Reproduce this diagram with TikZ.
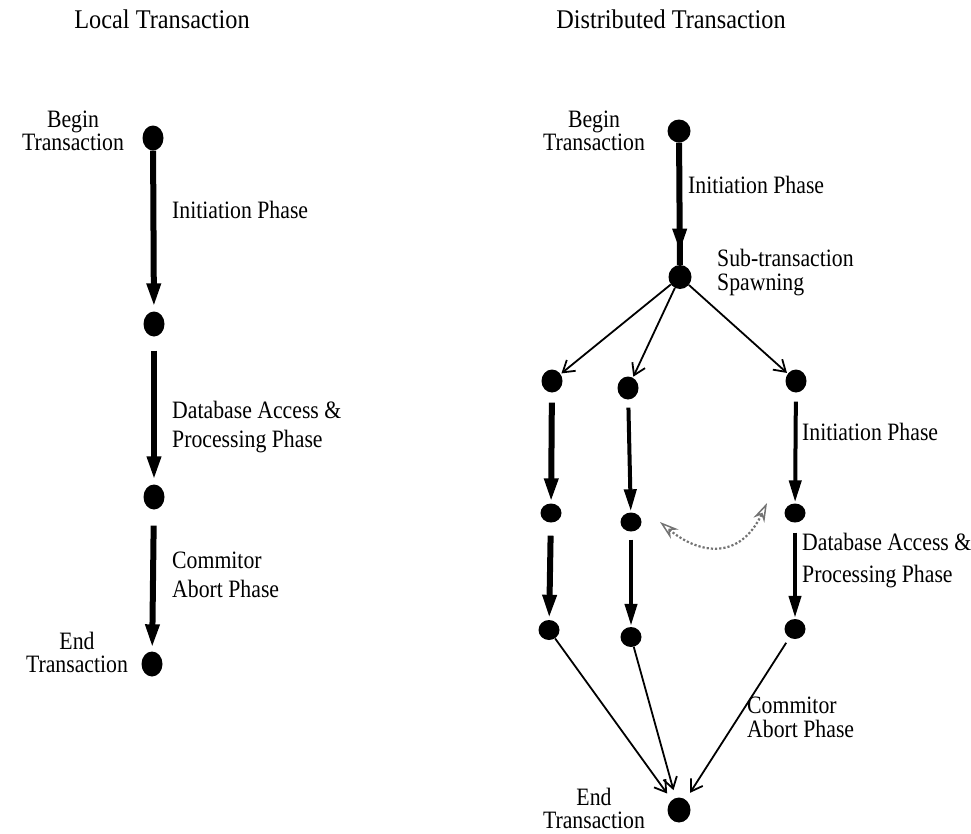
\documentclass[tikz,border=0pt]{standalone}
\usepackage{fontspec}
\newfontfamily\labelfont[FakeStretch=0.87]{Liberation Serif}
\newfontfamily\titlefont[FakeStretch=0.9]{Liberation Serif}
\usetikzlibrary{arrows.meta,shapes.geometric,decorations.markings}

\begin{document}
\begin{tikzpicture}[x=1pt,y=-1pt,
  dot/.style={ellipse,fill=black,inner sep=0pt,minimum width=21pt,minimum height=25pt},
  heading/.style={font=\titlefont\fontsize{27}{30}\selectfont,inner sep=0pt,anchor=base},
  lbl/.style={font=\labelfont\fontsize{25}{29}\selectfont,inner sep=0pt,align=left,anchor=base west},
  tightlbl/.style={font=\labelfont\fontsize{25}{23}\selectfont,inner sep=0pt,align=center,anchor=base},
  heavy/.style={line width=6pt,-{Triangle[length=24pt,width=13pt]}},
  medium/.style={line width=4pt,-{Triangle[length=22pt,width=12pt]}},
  spawn/.style={line width=1.8pt,-{Straight Barb[length=11pt,width=14pt,line width=1.8pt]}},
  exchange/.style={black!55,line width=2.2pt,dotted,
    {Stealth[open,length=19pt,width=12pt,line width=1.5pt]}-{Stealth[open,length=19pt,width=12pt,line width=1.5pt]}}
]
\path[use as bounding box] (0,0) rectangle (971,833);

% ---- local transaction ----
\node[heading] (t1) at (162,28) {Local Transaction};
\node[dot] (L1) at (153,138) {};
\node[dot] (L2) at (154,324) {};
\node[dot] (L3) at (154,497) {};
\node[dot] (L4) at (152,664) {};

\draw[heavy,shorten >=4pt] (L1) -- (L2);
\draw[heavy,shorten <=14pt,shorten >=4pt] (L2) -- (L3);
\draw[heavy,shorten <=16pt,shorten >=3pt] (L3) -- (L4);

% multi-line labels are placed by the baseline of their last line
\node[tightlbl] (lb) at (73,150) {Begin\\Transaction};
\node[lbl] (li) at (172,218) {Initiation Phase};
\node[lbl] (ld) at (172,447) {Database Access \&\\Processing Phase};
\node[lbl] (lc) at (172,597) {Commitor\\Abort Phase};
\node[tightlbl] (le) at (77,672) {End\\Transaction};

% ---- distributed transaction ----
\node[heading] (t2) at (671,28) {Distributed Transaction};
\node[dot,minimum width=23pt,minimum height=23pt] (R0) at (679,131) {};
\node[dot,minimum width=23pt,minimum height=24pt] (RS) at (680,277) {};
\node[dot,minimum width=21pt,minimum height=23pt] (A1) at (552,381) {};
\node[dot,minimum width=21pt,minimum height=23pt] (B1) at (628,388) {};
\node[dot,minimum width=21pt,minimum height=23pt] (C1) at (796,381) {};
\node[dot,minimum width=21pt,minimum height=19pt] (A2) at (551,513) {};
\node[dot,minimum width=21pt,minimum height=19pt] (B2) at (631,522) {};
\node[dot,minimum width=21pt,minimum height=19pt] (C2) at (795,513) {};
\node[dot,minimum width=21pt,minimum height=20pt] (A3) at (549,630) {};
\node[dot,minimum width=21pt,minimum height=20pt] (B3) at (631,637) {};
\node[dot,minimum width=21pt,minimum height=20pt] (C3) at (795,629) {};
\node[dot,minimum width=23pt,minimum height=25pt] (RE) at (679,810) {};

% main thread down to the spawning point
\draw[line width=6pt,postaction={decorate},
  decoration={markings,mark=at position 0.9 with {\arrow{Triangle[length=24pt,width=13pt]}}}]
  (R0) -- (RS);

% spawned sub-transactions
\draw[spawn,shorten >=1pt] (RS) -- (A1);
\draw[spawn,shorten >=1pt] (RS) -- (B1);
\draw[spawn,shorten >=1pt] (RS) -- (C1);

\draw[heavy,shorten <=10pt,shorten >=1pt] (A1) -- (A2);
\draw[heavy,shorten <=13pt,shorten >=1pt] (A2) -- (A3);
\draw[medium,shorten <=8pt,shorten >=1pt] (B1) -- (B2);
\draw[medium,shorten <=8pt,shorten >=1pt] (B2) -- (B3);
\draw[medium,shorten <=9pt,shorten >=1pt] (C1) -- (C2);
\draw[medium,shorten <=10pt,shorten >=1pt] (C2) -- (C3);

% commit / abort
\draw[spawn,shorten >=8pt] (A3) -- (RE);
\draw[spawn,shorten >=8pt] (B3) -- (RE);
\draw[spawn,shorten <=6pt,shorten >=8pt] (C3) -- (RE);

% message exchange between sub-transactions
\coordinate (xa) at (660,522);
\coordinate (xb) at (767,503);
\draw[exchange] (xa) .. controls (700,555) and (740,560) .. (xb);

\node[tightlbl] (rb) at (594,150) {Begin\\Transaction};
\node[lbl] (ri) at (688,193) {Initiation Phase};
\node[lbl] (rsl) at (717,290) {Sub-transaction\\[-5pt]Spawning};
\node[lbl] (ri2) at (802,440) {Initiation Phase};
\node[lbl] (rd) at (802,582) {Database Access \&\\[3pt]Processing Phase};
\node[lbl] (rc) at (747,737) {Commitor\\[-5pt]Abort Phase};
\node[tightlbl] (re) at (594,828) {End\\Transaction};
\end{tikzpicture}
\end{document}
